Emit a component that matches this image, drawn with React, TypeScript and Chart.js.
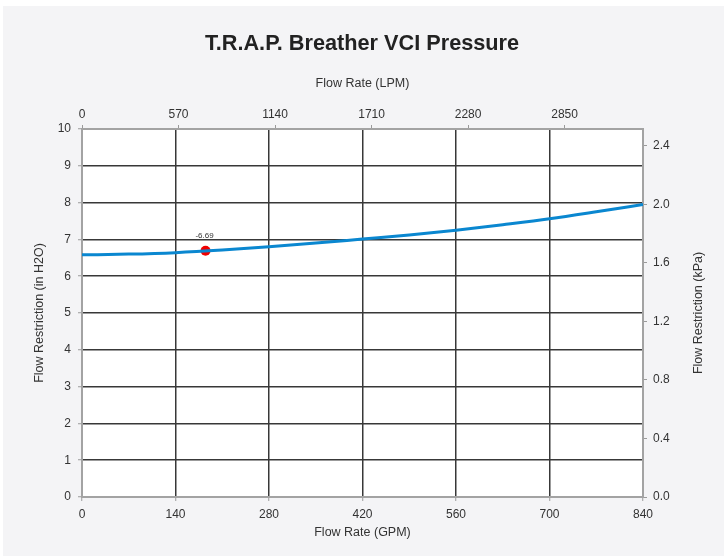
import React, { useEffect, useRef } from 'react';
import { Chart, registerables } from 'chart.js';

Chart.register(...registerables);

const TITLE = 'T.R.A.P. Breather VCI Pressure';
const X_TITLE = 'Flow Rate (GPM)';
const X2_TITLE = 'Flow Rate (LPM)';
const Y_TITLE = 'Flow Restriction (in H2O)';
const Y2_TITLE = 'Flow Restriction (kPa)';

const GPM = [0, 70, 140, 210, 280, 350, 420, 490, 560, 630, 700, 770, 840];
const INH2O = [6.58, 6.6, 6.64, 6.71, 6.8, 6.9, 7.01, 7.12, 7.25, 7.4, 7.56, 7.75, 7.95];

const MARK_GPM = [185];
const MARK_VAL = [6.69];
const MARK_LABEL = ['-6.69'];

const GPM_TICKS = [0, 140, 280, 420, 560, 700, 840];
const LPM_TICKS = [0, 570, 1140, 1710, 2280, 2850];
const INH2O_TICKS = [0, 1, 2, 3, 4, 5, 6, 7, 8, 9, 10];
const KPA_TICKS = [0, 0.4, 0.8, 1.2, 1.6, 2.0, 2.4];

const GPM_MAX = 840;
const LPM_MAX = 3313;
const INH2O_MAX = 10;
const KPA_MAX = 2.516;

const FONT = "'Liberation Sans', Arial, Helvetica, sans-serif";
const TEXT = '#333333';
const GRID = '#383838';
const BORDER = '#a3a3a3';
const TICKC = '#9a9a9a';

const setTicks = (vals: number[]) => (scale: any) => {
  scale.ticks = vals.map((v) => ({ value: v }));
};

const gridColor = (min: number, max: number) => (ctx: any) => {
  const v = ctx.tick ? ctx.tick.value : null;
  return v === min || v === max ? 'rgba(0,0,0,0)' : GRID;
};

const bgPlugin = {
  id: 'plotBg',
  beforeDraw(chart: any) {
    const { ctx, chartArea } = chart;
    ctx.save();
    ctx.fillStyle = '#ffffff';
    ctx.fillRect(chartArea.left, chartArea.top, chartArea.right - chartArea.left, chartArea.bottom - chartArea.top);
    ctx.restore();
  },
};

const labelPlugin = {
  id: 'markLabel',
  afterDatasetsDraw(chart: any) {
    const { ctx } = chart;
    const meta = chart.getDatasetMeta(1);
    ctx.save();
    ctx.font = `8px ${FONT}`;
    ctx.fillStyle = TEXT;
    ctx.textAlign = 'center';
    ctx.textBaseline = 'middle';
    meta.data.forEach((el: any, i: number) => {
      ctx.fillText(MARK_LABEL[i], el.x - 1, el.y - 15);
    });
    ctx.restore();
  },
};

const rightTitlePlugin = {
  id: 'rightTitle',
  afterDraw(chart: any) {
    const { ctx, chartArea } = chart;
    const s = chart.scales.y2;
    ctx.save();
    ctx.translate(s.right - 25, (chartArea.top + chartArea.bottom) / 2);
    ctx.rotate(-Math.PI / 2);
    ctx.font = `12.5px ${FONT}`;
    ctx.fillStyle = TEXT;
    ctx.textAlign = 'center';
    ctx.textBaseline = 'middle';
    ctx.fillText(Y2_TITLE, 0, 0);
    ctx.restore();
  },
};

export default function App() {
  const ref = useRef<HTMLCanvasElement | null>(null);

  useEffect(() => {
    if (!ref.current) return;
    const tickFont = { family: FONT, size: 12 };
    const titleFont = { family: FONT, size: 12.5 };
    const plain = (v: any) => String(v);
    const chart = new Chart(ref.current, {
      type: 'line',
      data: {
        datasets: [
          {
            label: 'Restriction',
            data: GPM.map((x, i) => ({ x, y: INH2O[i] })),
            borderColor: '#0a87d0',
            borderWidth: 3,
            pointRadius: 0,
            cubicInterpolationMode: 'monotone',
            fill: false,
            xAxisID: 'x',
            yAxisID: 'y',
          },
          {
            label: 'Point',
            data: MARK_GPM.map((x, i) => ({ x, y: MARK_VAL[i] })),
            showLine: false,
            pointRadius: 5,
            pointBackgroundColor: '#f00000',
            pointBorderColor: '#f00000',
            pointBorderWidth: 0,
            xAxisID: 'x',
            yAxisID: 'y',
          },
        ],
      },
      options: {
        responsive: false,
        animation: false,
        layout: { padding: 0 },
        plugins: {
          legend: { display: false },
          tooltip: { enabled: false },
          title: {
            display: true,
            text: TITLE,
            color: '#222222',
            font: { family: FONT, size: 21.7, weight: 'bold' },
            padding: { top: 31.5, bottom: 0 },
          },
        },
        scales: {
          x: {
            type: 'linear',
            position: 'bottom',
            min: 0,
            max: GPM_MAX,
            afterBuildTicks: setTicks(GPM_TICKS),
            afterFit: (s: any) => { s.height = 59; },
            grid: { color: gridColor(0, GPM_MAX), lineWidth: 1.5, tickColor: TICKC, tickLength: 4, tickWidth: 1 },
            border: { color: BORDER, width: 2 },
            ticks: { color: TEXT, font: tickFont, padding: 6, maxRotation: 0, callback: plain },
            title: { display: true, text: X_TITLE, color: TEXT, font: titleFont, padding: { top: 0, bottom: 15.5 } },
          },
          x2: {
            type: 'linear',
            position: 'top',
            min: 0,
            max: LPM_MAX,
            afterBuildTicks: setTicks(LPM_TICKS),
            afterFit: (s: any) => { s.height = 71.46; },
            grid: { drawOnChartArea: false, tickColor: TICKC, tickLength: 4, tickWidth: 1 },
            border: { color: BORDER, width: 2 },
            ticks: { color: TEXT, font: tickFont, padding: 3, maxRotation: 0, callback: plain },
            title: { display: true, text: X2_TITLE, color: TEXT, font: titleFont, padding: { top: 19, bottom: 0 } },
          },
          y: {
            type: 'linear',
            position: 'left',
            min: 0,
            max: INH2O_MAX,
            afterBuildTicks: setTicks(INH2O_TICKS),
            afterFit: (s: any) => { s.width = 82; },
            grid: { color: gridColor(0, INH2O_MAX), lineWidth: 1.5, tickColor: TICKC, tickLength: 4, tickWidth: 1 },
            border: { color: BORDER, width: 2 },
            ticks: { color: TEXT, font: tickFont, padding: 7, callback: plain },
            title: { display: true, text: Y_TITLE, color: TEXT, font: titleFont, padding: { top: 32.5, bottom: 0 } },
          },
          y2: {
            type: 'linear',
            position: 'right',
            min: 0,
            max: KPA_MAX,
            afterBuildTicks: setTicks(KPA_TICKS),
            afterFit: (s: any) => { s.width = 81; },
            grid: { drawOnChartArea: false, tickColor: TICKC, tickLength: 4, tickWidth: 1 },
            border: { color: BORDER, width: 2 },
            ticks: { color: TEXT, font: tickFont, padding: 6, callback: (v: any) => Number(v).toFixed(1) },
            title: { display: false },
          },
        },
      },
      plugins: [bgPlugin, labelPlugin, rightTitlePlugin],
    } as any);
    return () => chart.destroy();
  }, []);

  return (
    <div style={{ position: 'absolute', left: 0, top: 0, width: 724, height: 556, background: '#ffffff' }}>
      <div style={{ position: 'absolute', left: 3, top: 6, right: 0, bottom: 0, background: '#f4f4f6' }} />
      <canvas ref={ref} width={724} height={556} style={{ position: 'absolute', left: 0, top: 0, display: 'block' }} />
    </div>
  );
}
